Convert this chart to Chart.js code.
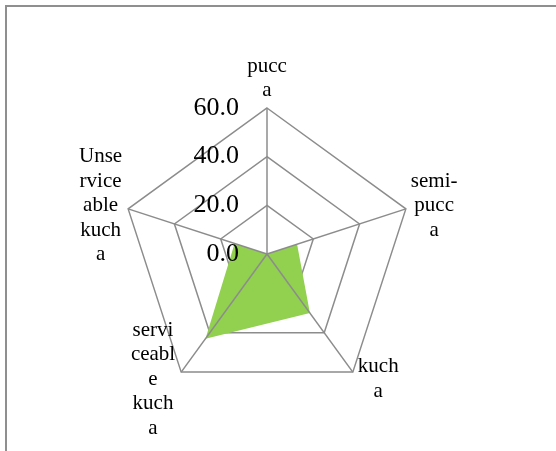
<!DOCTYPE html>
<html>
<head>
<meta charset="utf-8">
<script src="https://cdn.jsdelivr.net/npm/chart.js@4.4.1/dist/chart.umd.min.js"></script>
<style>
  html, body { margin: 0; padding: 0; background: #fff; overflow: hidden; }
  #wrap { position: relative; width: 556px; height: 451px; overflow: hidden; }
  #frame { position: absolute; left: 5px; top: 5px; width: 700px; height: 700px;
           border-left: 2px solid #8f8f8f; border-top: 2px solid #8f8f8f; box-sizing: border-box; }
  canvas { position: absolute; left: 0; top: 0; }
</style>
</head>
<body>
<div id="wrap">
  <div id="frame"></div>
  <canvas id="c" width="556" height="451"></canvas>
</div>
<script>
// ---- data ----
const categories = [
  ["pucc", "a"],
  ["semi-", "pucc", "a"],
  ["kuch", "a"],
  ["servi", "ceabl", "e", "kuch", "a"],
  ["Unse", "rvice", "able", "kuch", "a"]
];
const seriesValues = [0, 13, 30, 43, 14];
const tickMin = 0;
const tickMax = 60;
const tickStep = 20;

// ---- styles ----
const gridColor = '#8c8c8c';
const fillColor = '#92D050';
const serif = '"Liberation Serif", "Times New Roman", serif';

const overlay = {
  id: 'overlay',
  afterDatasetsDraw(chart) {
    const scale = chart.scales.r;
    const ctx = chart.ctx;
    const n = chart.data.labels.length;
    ctx.save();
    // spokes drawn over the filled area
    ctx.strokeStyle = gridColor;
    ctx.lineWidth = 1.5;
    for (let i = 0; i < n; i++) {
      const p = scale.getPointPosition(i, scale.drawingArea);
      ctx.beginPath();
      ctx.moveTo(scale.xCenter, scale.yCenter);
      ctx.lineTo(p.x, p.y);
      ctx.stroke();
    }
    // tick labels, right aligned left of the vertical axis
    ctx.fillStyle = '#000';
    ctx.font = '26px ' + serif;
    ctx.textAlign = 'right';
    ctx.textBaseline = 'middle';
    scale.ticks.forEach(t => {
      const d = scale.getDistanceFromCenterForValue(t.value);
      ctx.fillText(t.label, scale.xCenter - 28, scale.yCenter - d);
    });
    // point labels
    ctx.font = '21px ' + serif;
    ctx.textAlign = 'center';
    const lh = 24.5;
    chart.data.labels.forEach((lab, i) => {
      const lines = Array.isArray(lab) ? lab : [lab];
      const w = Math.max(...lines.map(s => ctx.measureText(s).width));
      const h = lines.length * lh;
      const p = scale.getPointPosition(i, scale.drawingArea);
      const dx = p.x - scale.xCenter, dy = p.y - scale.yCenter;
      let cx, top;
      if (Math.abs(dx) < 2) {
        cx = p.x;
        top = dy < 0 ? p.y - 5 - h : p.y + 5;
      } else {
        cx = dx > 0 ? p.x + 5 + w / 2 : p.x - 6 - w / 2;
        const cy = p.y + (dy > 0 ? 7 : -3);
        top = cy - h / 2;
      }
      lines.forEach((s, k) => ctx.fillText(s, cx, top + lh * (k + 0.5)));
    });
    ctx.restore();
  }
};

new Chart(document.getElementById('c'), {
  type: 'radar',
  data: {
    labels: categories,
    datasets: [{
      data: seriesValues,
      backgroundColor: fillColor,
      borderWidth: 0,
      borderColor: 'rgba(0,0,0,0)',
      pointRadius: 0,
      pointHoverRadius: 0,
      fill: true,
      tension: 0
    }]
  },
  options: {
    responsive: false,
    animation: false,
    events: [],
    layout: { padding: { top: 108, bottom: 50, left: 0, right: 22 } },
    plugins: { legend: { display: false }, tooltip: { enabled: false }, title: { display: false } },
    scales: {
      r: {
        min: tickMin,
        max: tickMax,
        beginAtZero: true,
        ticks: {
          stepSize: tickStep,
          display: false,
          callback: v => Number(v).toFixed(1)
        },
        pointLabels: { display: false },
        angleLines: { display: false },
        grid: { color: gridColor, lineWidth: 1.5 }
      }
    }
  },
  plugins: [overlay]
});
</script>
</body>
</html>
